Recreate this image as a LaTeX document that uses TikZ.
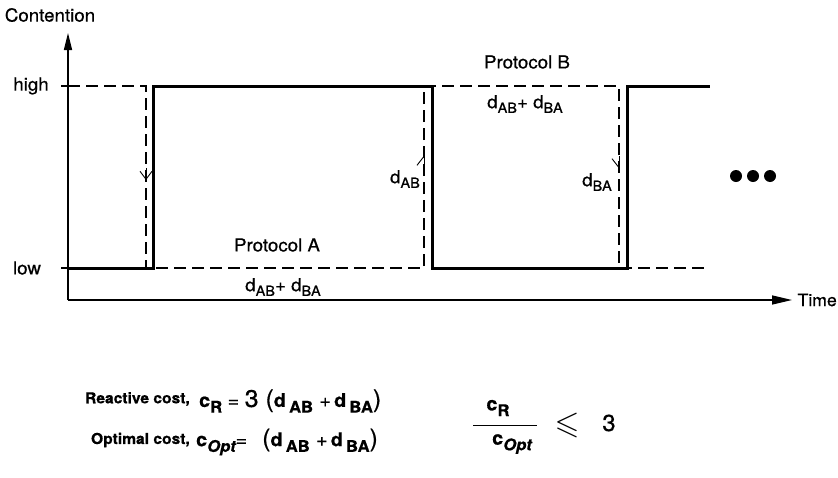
\documentclass[tikz,border=0pt]{standalone}
\usepackage{amssymb}
\usepackage{fontspec}
\setmainfont[FakeStretch=1.04,FakeBold=0.6]{TeX Gyre Heros}
\usepackage{tikz}
\usetikzlibrary{arrows.meta}
\newcommand{\sbs}[1]{\raisebox{-0.5ex}{\fontsize{14}{14}\selectfont #1}}
\newcommand{\lsbs}[1]{\raisebox{-0.55ex}{\fontsize{16}{16}\selectfont #1}}

\begin{document}
\begin{tikzpicture}[x=1pt,y=-1pt,every node/.style={inner sep=0pt,font=\fontsize{18}{21}\selectfont},
	axis/.style={line width=1.5pt},
	levelline/.style={line width=3pt,line join=miter},
	delayed/.style={line width=1.4pt,dash pattern=on 12pt off 6pt},
	barb/.style={line width=0.9pt},
	cost/.style={font=\fontsize{15}{20}\selectfont\bfseries},
	term/.style={font=\fontsize{19}{22}\selectfont\bfseries}]
	
	\useasboundingbox (0,0) rectangle (838,477);
	
	% axes
	\coordinate (O) at (68,300);
	\coordinate (ytop) at (68,33);
	\coordinate (xend) at (792,300);
	\draw[axis,-{Triangle[length=17pt,width=8pt]}] (O) -- (ytop);
	\draw[axis,-{Triangle[length=20pt,width=9pt]}] (O) -- (xend);
	\node (cont) at (50,15) {Contention};
	\node[anchor=east,font=\fontsize{17}{20}\selectfont] (time) at (837,300) {Time};
	\node (high) at (31,86) {high};
	\node (low) at (27,268) {low};
	\draw[axis] (61,86) -- (68,86);
	\draw[axis] (61,268) -- (68,268);
	
	% switching
	\draw[delayed] (68,86) -- (146,86) -- (146,268) -- (424,268) -- (424,86) -- (619,86) -- (619,268) -- (706,268);
	\draw[levelline] (68,268) -- (153,268) -- (153,86) -- (432,86) -- (432,268) -- (627,268) -- (627,86) -- (710,86);
	\draw[barb,-{Straight Barb[length=8pt,width=12pt]}] (146,168) -- (146,180);
	\draw[barb,-{Straight Barb[left,length=9pt,width=14pt]}] (424,168) -- (424,155);
	\draw[barb,-{Straight Barb[right,length=9pt,width=14pt]}] (619,156) -- (619,169);
	
	\node (protA) at (277,245) {Protocol A};
	\node (costA) at (283,287) {d\sbs{AB}+ d\sbs{BA}};
	\node (protB) at (527,62) {Protocol B};
	\node (costB) at (525,104) {d\sbs{AB}+ d\sbs{BA}};
	\node (dab) at (405,179) {d\sbs{AB}};
	\node (dba) at (597,182) {d\sbs{BA}};
	\foreach \dx in {736,753,770}
		\fill (\dx,176) circle (6pt);
	
	% costs
	\node[cost,anchor=east] (react) at (190,399) {Reactive cost,};
	\node[term,anchor=west] (cr) at (199,401) {c\lsbs{\bfseries R} {\mdseries = \fontsize{24}{24}\selectfont 3 (}d\,\lsbs{\bfseries AB}\,\,{\mdseries +}\,d\,\lsbs{\bfseries BA}{\mdseries\fontsize{24}{24}\selectfont )}};
	\node[cost,anchor=east] (opt) at (190,440) {Optimal cost,};
	\node[term,anchor=west] (copt) at (196,442) {c\lsbs{\itshape\bfseries Opt}{\mdseries =}\,\,\, {\mdseries\fontsize{24}{24}\selectfont (}d\,\lsbs{\bfseries AB}\,\,{\mdseries +}\,d\,\lsbs{\bfseries BA}{\mdseries\fontsize{24}{24}\selectfont )}};
	\node[term] (fnum) at (498,408) {c\lsbs{\bfseries R}};
	\node[term] (fden) at (512,444) {c\lsbs{\itshape\bfseries Opt}};
	\draw[line width=1pt] (473,425) -- (537,425);
	\node (leq) at (567,425) {\fontsize{32}{32}\selectfont$\leqslant$};
	\node (three) at (609,423) {\fontsize{23}{23}\selectfont 3};
	\end{tikzpicture}
\end{document}
